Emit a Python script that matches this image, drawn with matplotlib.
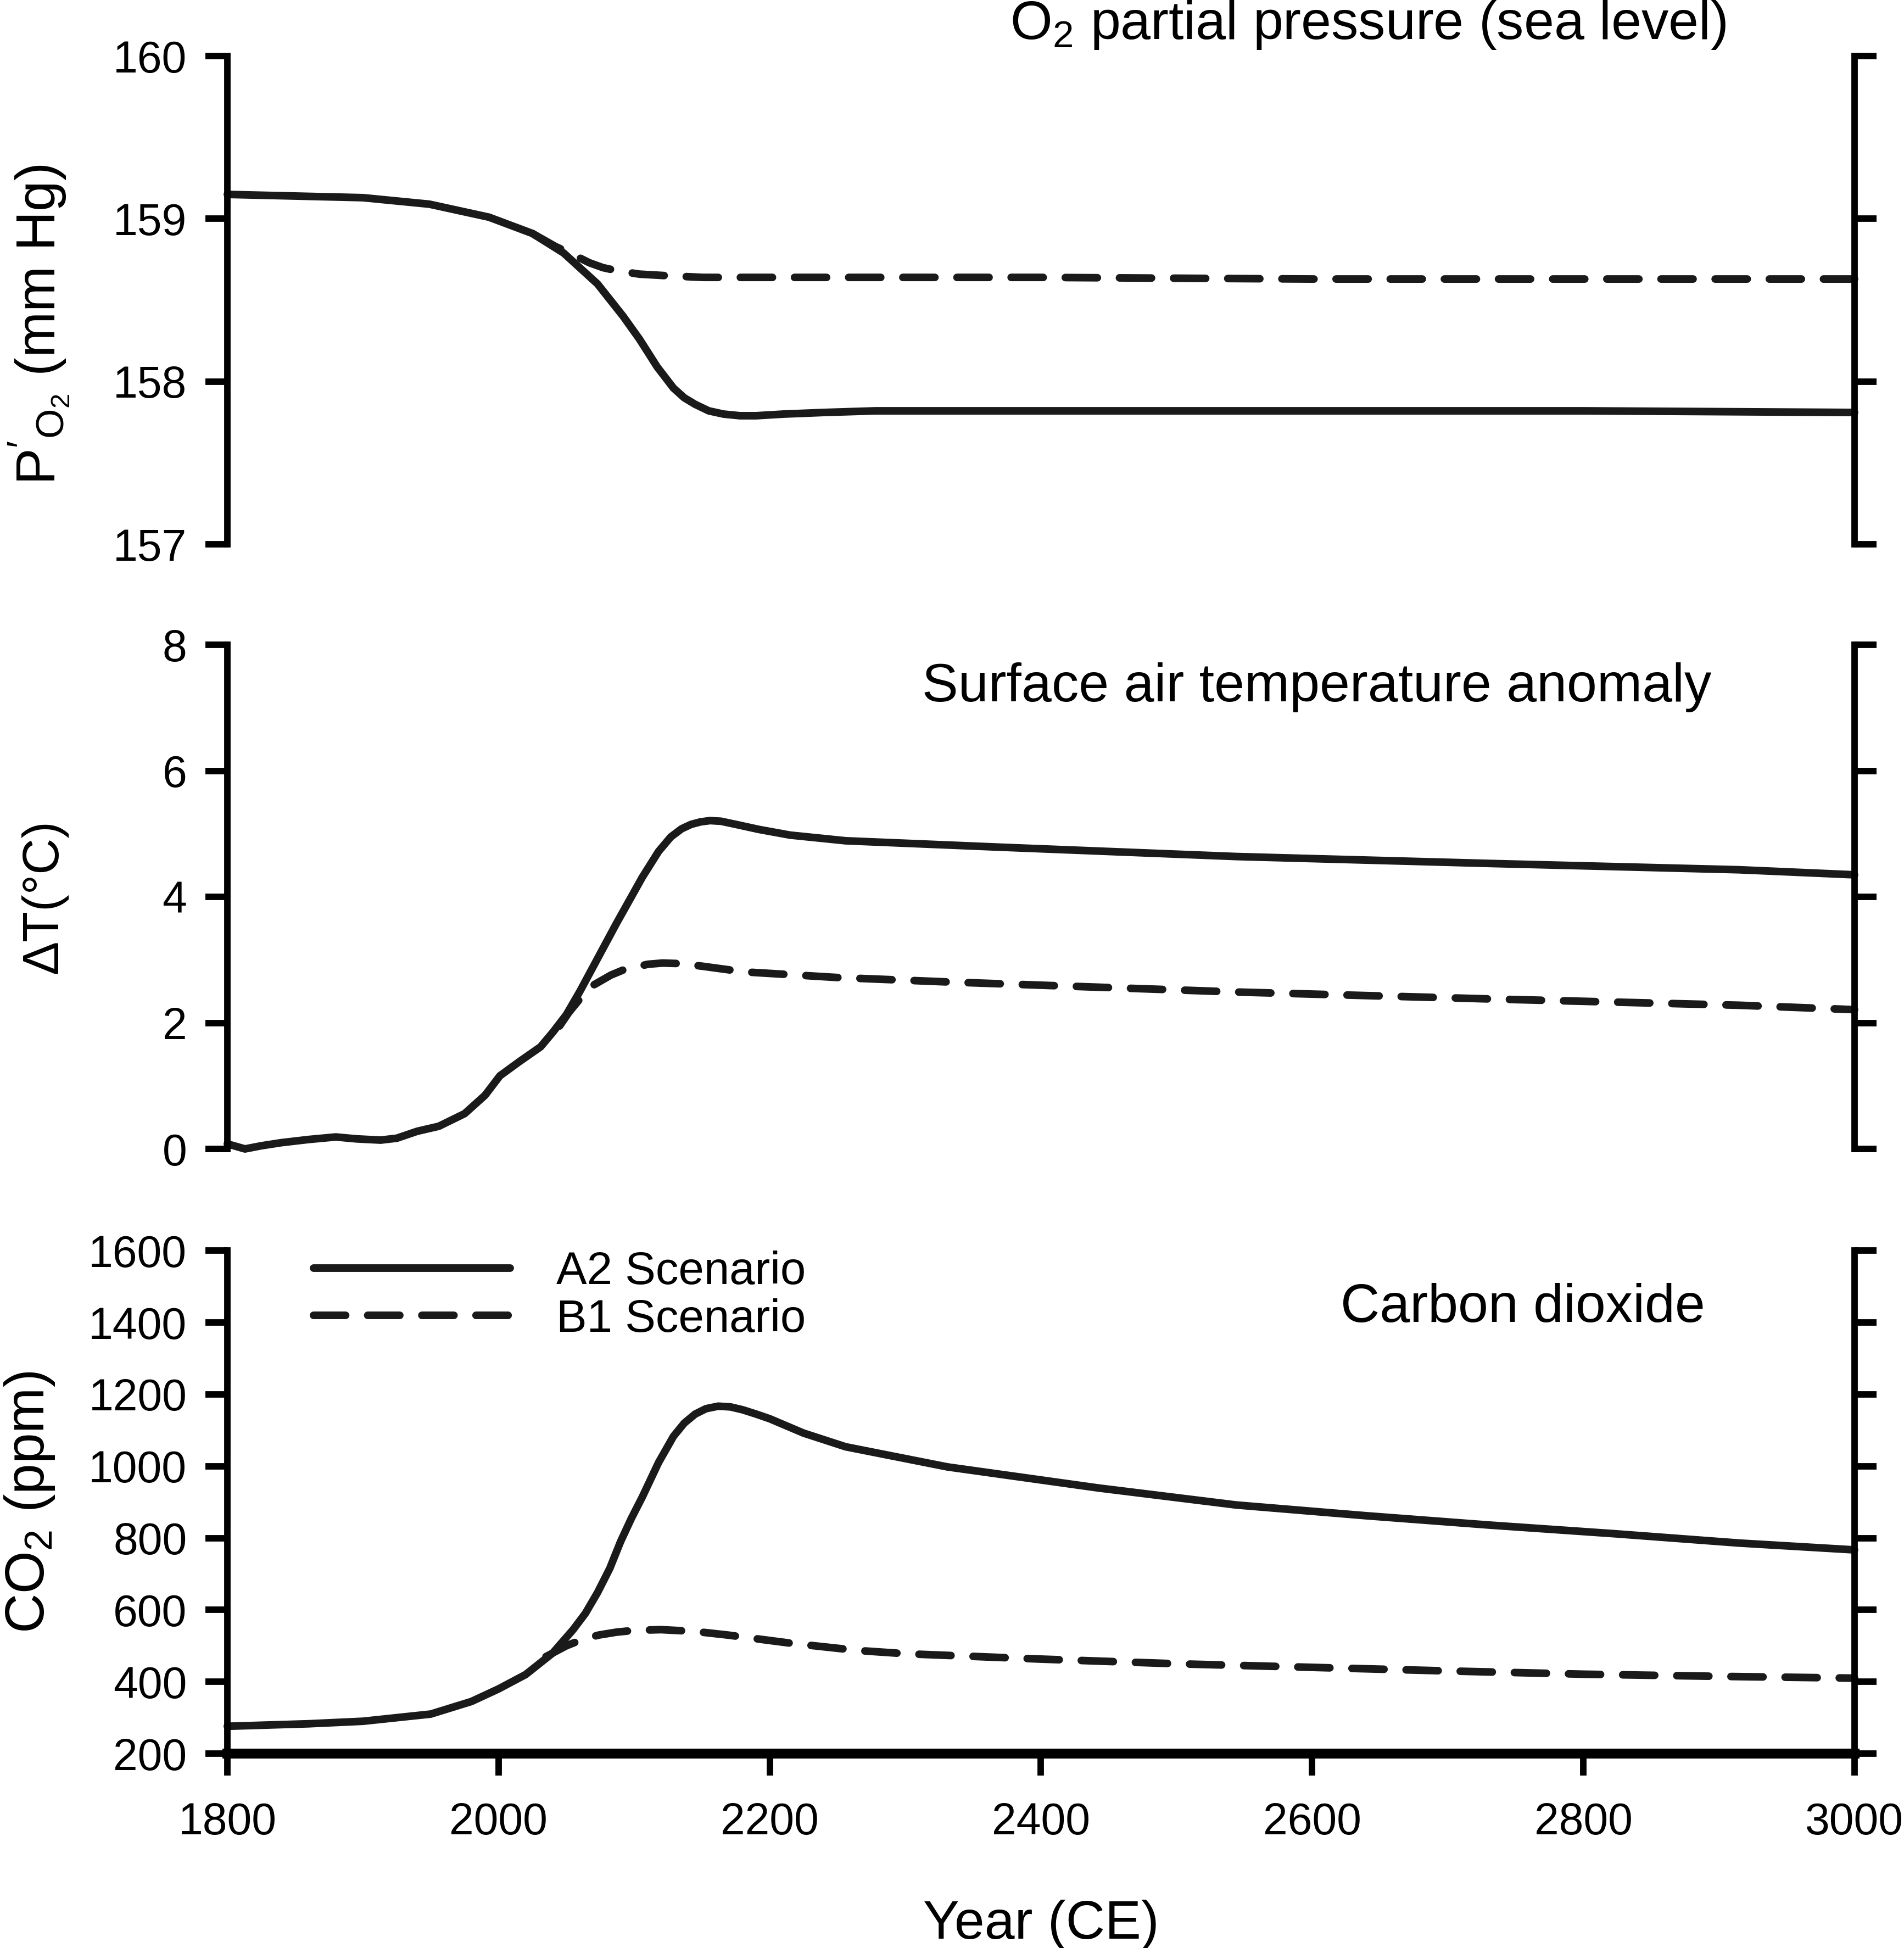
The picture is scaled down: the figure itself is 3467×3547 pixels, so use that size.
import matplotlib
matplotlib.use("Agg")
import matplotlib.pyplot as plt

plt.rcParams['font.family'] = ['Liberation Sans', 'DejaVu Sans']
plt.rcParams['mathtext.fontset'] = 'custom'
plt.rcParams['mathtext.rm'] = 'Liberation Sans'
plt.rcParams['mathtext.it'] = 'Liberation Sans:italic'
plt.rcParams['mathtext.default'] = 'regular'

# O2 partial pressure (mm Hg)
o2_years_a2 = [1800, 1850, 1900, 1949, 1993, 2025, 2048, 2073, 2092, 2104, 2117,
               2129, 2137, 2145, 2155, 2166, 2178, 2190, 2210, 2240, 2278, 2400,
               2600, 2800, 3000]
o2_a2 = [159.15, 159.14, 159.13, 159.09, 159.01, 158.91, 158.79, 158.60, 158.40,
         158.26, 158.09, 157.96, 157.90, 157.86, 157.82, 157.80, 157.79, 157.79,
         157.80, 157.81, 157.82, 157.82, 157.82, 157.82, 157.81]
o2_years_b1 = [2025, 2042, 2055, 2067, 2077, 2088, 2104, 2125, 2151, 2200, 2400,
               2600, 2800, 3000]
o2_b1 = [158.91, 158.83, 158.78, 158.73, 158.70, 158.68, 158.66, 158.65, 158.64,
         158.64, 158.64, 158.63, 158.63, 158.63]

# surface air temperature anomaly (deg C)
t_years_a2 = [1800, 1813, 1825, 1840, 1860, 1880, 1895, 1913, 1925, 1940, 1956,
              1975, 1990, 2001, 2015, 2031, 2040, 2050, 2060, 2069, 2087, 2106,
              2118, 2127, 2135, 2142, 2149, 2156, 2164, 2175, 2192, 2215, 2256,
              2368, 2544, 2731, 2915, 3000]
t_a2 = [0.08, 0.0, 0.05, 0.10, 0.15, 0.19, 0.16, 0.14, 0.17, 0.28, 0.36, 0.56,
        0.85, 1.16, 1.38, 1.62, 1.85, 2.13, 2.50, 2.86, 3.58, 4.31, 4.72, 4.95,
        5.08, 5.15, 5.19, 5.21, 5.20, 5.15, 5.07, 4.98, 4.89, 4.79, 4.64, 4.53,
        4.43, 4.35]
t_years_b1 = [2045, 2052, 2060, 2070, 2083, 2092, 2100, 2110, 2121, 2135, 2150,
              2181, 2250, 2331, 2544, 2731, 2915, 3000]
t_b1 = [1.95, 2.17, 2.38, 2.60, 2.76, 2.84, 2.88, 2.93, 2.95, 2.94, 2.90, 2.81,
        2.72, 2.65, 2.49, 2.38, 2.28, 2.21]

# CO2 (ppm)
c_years_a2 = [1800, 1860, 1900, 1950, 1980, 2000, 2020, 2040, 2055, 2064, 2073,
              2082, 2090, 2098, 2106, 2118, 2129, 2137, 2145, 2153, 2162, 2171,
              2180, 2190, 2200, 2225, 2256, 2331, 2443, 2544, 2640, 2731, 2823,
              2915, 3000]
c_a2 = [276, 283, 290, 310, 345, 380, 420, 480, 545, 590, 648, 715, 790, 855, 914,
        1010, 1083, 1120, 1145, 1160, 1167, 1165, 1157, 1145, 1132, 1092, 1054,
        998, 939, 892, 862, 836, 812, 786, 767]
c_years_b1 = [2035, 2050, 2062, 2074, 2087, 2100, 2120, 2145, 2169, 2216, 2265,
              2300, 2400, 2500, 2600, 2700, 2800, 2900, 3000]
c_b1 = [470, 500, 518, 530, 538, 543, 545, 540, 530, 507, 487, 478, 463, 450,
        440, 430, 421, 415, 410]

x_ticks = [1800, 2000, 2200, 2400, 2600, 2800, 3000]

lw = 10
dash = (4.2, 2.9)
tick_fs = 58
label_fs = 72
title_fs = 71

fig = plt.figure(figsize=(34.67, 35.47), dpi=100)
ax1 = fig.add_axes([0.1194, 0.7206, 0.8546, 0.2506])
ax2 = fig.add_axes([0.1194, 0.4102, 0.8546, 0.2588])
ax3 = fig.add_axes([0.1194, 0.0998, 0.8546, 0.2582])


def style(ax, bottom):
    ax.set_xlim(1800, 3000)
    ax.spines['top'].set_visible(False)
    ax.spines['bottom'].set_visible(bottom)
    for s in ['left', 'right']:
        ax.spines[s].set_linewidth(8.5)
    ax.spines['bottom'].set_linewidth(13)
    ax.tick_params(axis='y', which='both', direction='out', length=29, width=8.5,
                   left=True, right=True, labelleft=True, labelright=False,
                   labelsize=tick_fs, pad=24)
    if bottom:
        ax.set_xticks(x_ticks)
        ax.tick_params(axis='x', direction='out', length=29, width=8.5,
                       labelsize=tick_fs, pad=34)
    else:
        ax.set_xticks([])


line_kw = dict(color='#1a1a1a', lw=lw, solid_capstyle='round',
               dash_capstyle='round', solid_joinstyle='round', clip_on=False)

# top panel
ax1.plot(o2_years_a2, o2_a2, **line_kw)
ax1.plot(o2_years_b1, o2_b1, dashes=dash, **line_kw)
ax1.set_ylim(157, 160)
ax1.set_yticks([157, 158, 159, 160])
style(ax1, False)
ax1.set_ylabel(r"$P'_{O_2}$ (mm Hg)", fontsize=label_fs)
ax1.yaxis.set_label_coords(-0.096, 0.45)
ax1.text(0.921, 1.064, r"O$_2$ partial pressure (sea level)", transform=ax1.transAxes,
         ha='right', va='center', fontsize=title_fs)

# middle panel
ax2.plot(t_years_a2, t_a2, **line_kw)
ax2.plot(t_years_b1, t_b1, dashes=dash, **line_kw)
ax2.set_ylim(0, 8)
ax2.set_yticks([0, 2, 4, 6, 8])
style(ax2, False)
ax2.set_ylabel("ΔT(°C)", fontsize=66)
ax2.yaxis.set_label_coords(-0.098, 0.5)
ax2.text(0.912, 0.916, "Surface air temperature anomaly", transform=ax2.transAxes,
         ha='right', va='center', fontsize=title_fs)

# bottom panel
ax3.plot(c_years_a2, c_a2, label='A2 Scenario', **line_kw)
ax3.plot(c_years_b1, c_b1, dashes=dash, label='B1 Scenario', **line_kw)
ax3.set_ylim(200, 1600)
ax3.set_yticks(range(200, 1601, 200))
style(ax3, True)
ax3.set_ylabel("CO$_2$ (ppm)", fontsize=label_fs)
ax3.yaxis.set_label_coords(-0.105, 0.5)
ax3.set_xlabel("Year (CE)", fontsize=71, labelpad=74)
ax3.text(0.908, 0.886, "Carbon dioxide", transform=ax3.transAxes,
         ha='right', va='center', fontsize=title_fs)
ax3.legend(loc='upper left', bbox_to_anchor=(0.053, 1.0), frameon=False,
           fontsize=60, handlelength=4.3, handletextpad=1.0, labelspacing=0.1,
           borderpad=0, borderaxespad=0)

fig.savefig("out.png", dpi=100)
